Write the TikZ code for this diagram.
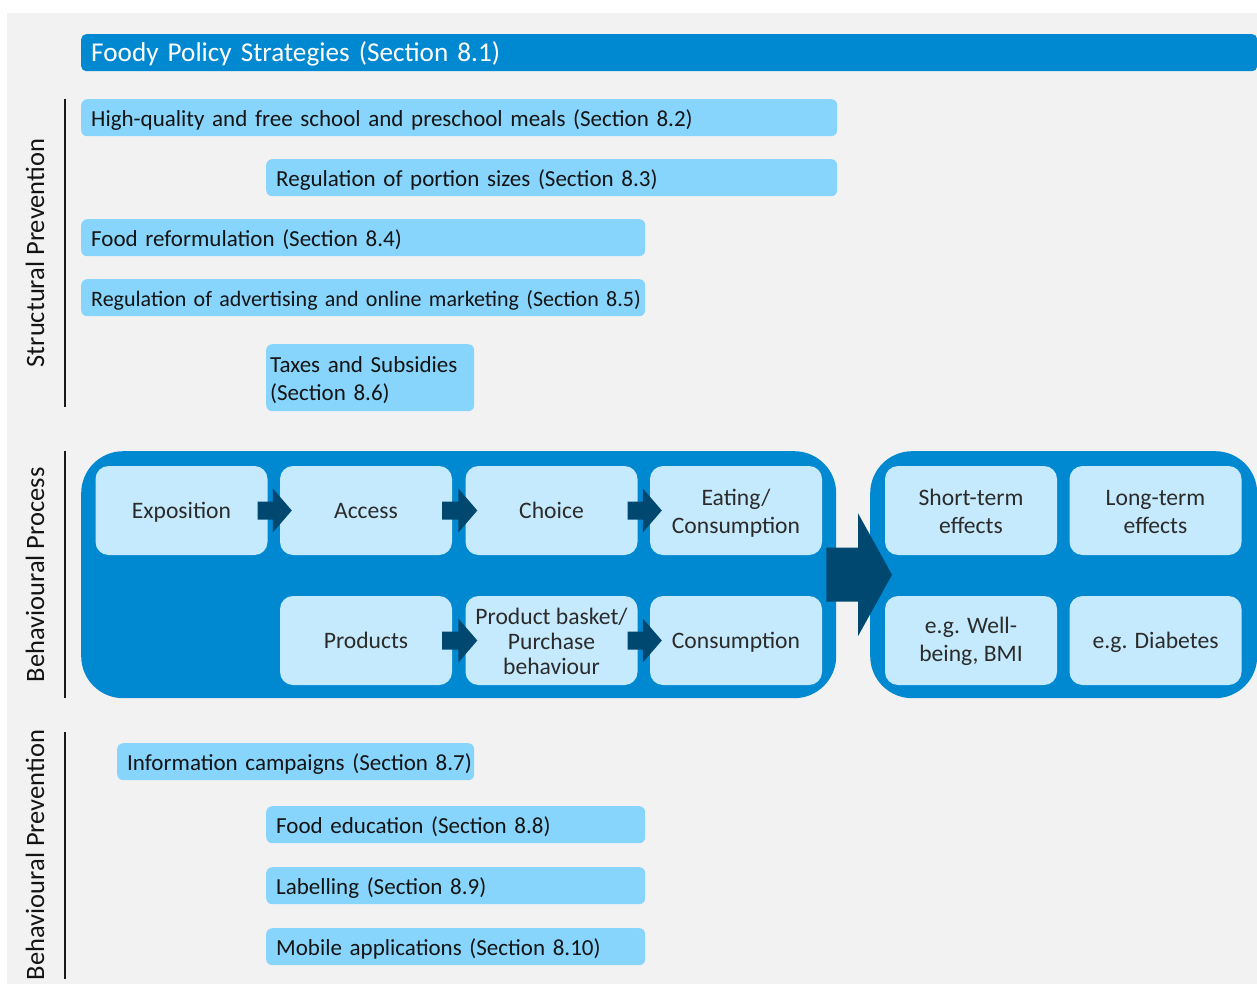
\documentclass[tikz,border=0pt]{standalone}
\usepackage{fontspec}
\setmainfont{Carlito}
\usetikzlibrary{calc}
\definecolor{bgGray}{HTML}{F2F2F2}
\definecolor{midBlue}{HTML}{0088D1}
\definecolor{policyBlue}{HTML}{87D5FC}
\definecolor{innerBlue}{HTML}{C5EAFD}
\definecolor{arrowBlue}{HTML}{00486F}
\definecolor{txtDark}{HTML}{141414}
\definecolor{txtInner}{HTML}{2B2B2B}
\newcommand\blockarrow[5]{%
  \fill[arrowBlue] ($(#1)+(0,-#3)$) -- ($(#2)+(-#5,-#3)$) -- ($(#2)+(-#5,-#4)$) -- (#2)
    -- ($(#2)+(-#5,#4)$) -- ($(#2)+(-#5,#3)$) -- ($(#1)+(0,#3)$) -- cycle;}
\begin{document}
\begin{tikzpicture}[x=1pt,y=-1pt,
  pbox/.style={fill=policyBlue, rounded corners=6, inner xsep=10, inner ysep=0,
    minimum height=37, align=left, anchor=north west, text=txtDark,
    text height=17.5, text depth=0,
    font=\fontsize{23}{28}\selectfont},
  ibox/.style={fill=innerBlue, rounded corners=13, minimum width=172, minimum height=89,
    align=center, text=txtInner, inner sep=0, text height=16, text depth=0,
    font=\fontsize{23.6}{28}\selectfont},
  twoline/.style={text height=17, text depth=28},
  itwoline/.style={text height=45, text depth=0},
  bigbox/.style={fill=midBlue, rounded corners=42, inner sep=0, anchor=north west,
    minimum height=247},
  sidelabel/.style={rotate=90, text=txtDark, font=\fontsize{26.5}{30}\selectfont},
  sideline/.style={line width=2, draw=black!90}
]
\useasboundingbox (0,0) rectangle (1257,984);
\fill[white] (0,0) rectangle (1257,984);
\fill[bgGray] (7,13) rectangle (1257,984);

% title
\node[fill=midBlue, rounded corners=5, anchor=north west, minimum width=1176, minimum height=37,
  inner xsep=10, inner ysep=0, text width=1156, align=left, text=white,
  text height=17.5, text depth=0,
  font=\fontsize{27.2}{30}\selectfont] (title) at (81,34) {Foody Policy Strategies (Section 8.1)};

% side labels
\node[sidelabel] (lsp) at (35,253) {Structural Prevention};
\node[sidelabel] (lbproc) at (35,575) {Behavioural Process};
\node[sidelabel] (lbprev) at (35,855) {Behavioural Prevention};
\draw[sideline] (65,99) -- (65,407);
\draw[sideline] (65,451) -- (65,698);
\draw[sideline] (65,732) -- (65,979);

% structural prevention
\node[pbox, text width=736] (p82) at (81,99) {\mbox{High-quality and free school and preschool meals (Section 8.2)}};
\node[pbox, text width=551] (p83) at (266,159) {\mbox{Regulation of portion sizes (Section 8.3)}};
\node[pbox, text width=544] (p84) at (81,219) {\mbox{Food reformulation (Section 8.4)}};
\node[pbox, text width=544, font=\fontsize{22}{28}\selectfont] (p85) at (81,279) {\mbox{Regulation of advertising and online marketing (Section 8.5)}};
\node[pbox, inner xsep=4, text width=200, minimum height=67, twoline] (p86) at (266,344) {Taxes and Subsidies\\(Section 8.6)};

% behavioural prevention
\node[pbox, text width=337] (p87) at (117,743) {\mbox{Information campaigns (Section 8.7)}};
\node[pbox, text width=359] (p88) at (266,806) {\mbox{Food education (Section 8.8)}};
\node[pbox, text width=359] (p89) at (266,867) {\mbox{Labelling (Section 8.9)}};
\node[pbox, text width=359] (p810) at (266,928) {\mbox{Mobile applications (Section 8.10)}};

% behavioural process
\node[bigbox, minimum width=755] (proc) at (81,451) {};
\node[bigbox, minimum width=387] (eff) at (870,451) {};

\node[ibox] (expo) at (181.5,510.5) {Exposition};
\node[ibox] (acc) at (366,510.5) {Access};
\node[ibox] (cho) at (551.5,510.5) {Choice};
\node[ibox, itwoline] (eat) at (736,510.5) {Eating/\\Consumption};
\node[ibox] (prod) at (366,640.5) {Products};
\node[ibox, font=\fontsize{23.6}{25}\selectfont, text height=67, text depth=0] (bask) at (551.5,640.5) {Product basket/\\Purchase\\behaviour};
\node[ibox] (cons) at (736,640.5) {Consumption};
\node[ibox, itwoline] (short) at (971,510.5) {Short-term\\effects};
\node[ibox, itwoline] (long) at (1155.5,510.5) {Long-term\\effects};
\node[ibox, text height=41, text depth=0] (well) at (971,640.5) {e.g. Well-\\being, BMI};
\node[ibox] (diab) at (1155.5,640.5) {e.g. Diabetes};

% arrows
\coordinate (a1s) at ($(expo.east)+(-10,0)$); \coordinate (a1e) at ($(acc.west)+(12,0)$);
\coordinate (a2s) at ($(acc.east)+(-10,0)$);  \coordinate (a2e) at ($(cho.west)+(12,0)$);
\coordinate (a3s) at ($(cho.east)+(-10,0)$);  \coordinate (a3e) at ($(eat.west)+(12,0)$);
\coordinate (a4s) at ($(prod.east)+(-10,0)$); \coordinate (a4e) at ($(bask.west)+(12,0)$);
\coordinate (a5s) at ($(bask.east)+(-10,0)$); \coordinate (a5e) at ($(cons.west)+(12,0)$);
\blockarrow{a1s}{a1e}{9}{22}{19}
\blockarrow{a2s}{a2e}{9}{22}{19}
\blockarrow{a3s}{a3e}{9}{22}{19}
\blockarrow{a4s}{a4e}{9}{22}{19}
\blockarrow{a5s}{a5e}{9}{22}{19}
\coordinate (bas) at ($(proc.east)+(-10,0)$); \coordinate (bae) at ($(eff.west)+(22,0)$);
\blockarrow{bas}{bae}{27}{61.5}{34}
\end{tikzpicture}
\end{document}
